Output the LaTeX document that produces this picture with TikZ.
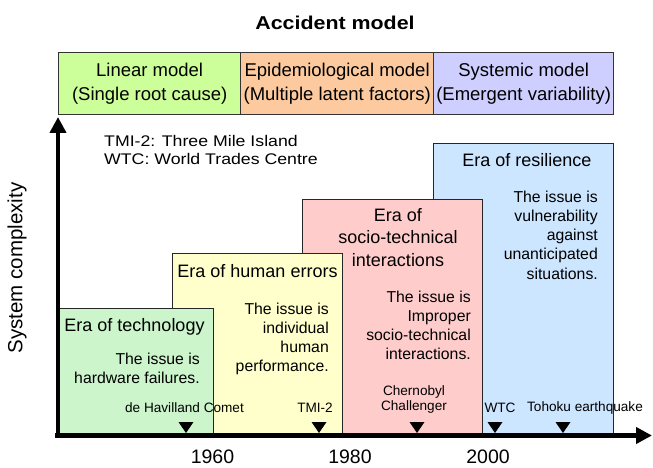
\documentclass[tikz,border=0pt]{standalone}
\usepackage{fontspec}
\setmainfont{Liberation Sans}
\newfontfamily\widesans[FakeStretch=1.15]{Liberation Sans}
\usetikzlibrary{arrows.meta}

\definecolor{linfill}{RGB}{204,255,153}
\definecolor{epifill}{RGB}{252,202,158}
\definecolor{sysfill}{RGB}{206,206,255}
\definecolor{techfill}{RGB}{204,245,204}
\definecolor{humfill}{RGB}{255,255,204}
\definecolor{socfill}{RGB}{255,204,204}
\definecolor{resfill}{RGB}{204,230,255}

\begin{document}
\begin{tikzpicture}[x=1pt,y=-1pt,
  modelbox/.style={draw=black!80, line width=1.3pt, inner sep=0pt, align=center,
    anchor=north west, minimum height=62pt, font=\fontsize{18.5}{24}\selectfont},
  erabox/.style={draw=black!85, line width=1.2pt, inner sep=0pt, anchor=north west},
  eratitle/.style={inner sep=0pt, align=center, font=\fontsize{18}{22.5}\selectfont},
  issue/.style={inner sep=0pt, align=right, anchor=east, font=\fontsize{15.8}{19.2}\selectfont},
  event/.style={inner sep=0pt, align=center, font=\fontsize{13.6}{15.5}\selectfont},
  year/.style={inner sep=0pt, font=\fontsize{19.5}{23}\selectfont},
  axis/.style={line width=4.5pt, -{Triangle[length=16pt,width=16pt]}},
]
\useasboundingbox (0,0) rectangle (653,468);

% heading and the three accident models
\node[font=\widesans\bfseries\fontsize{18.6}{22}\selectfont] (title) at (335,23) {Accident model};
\node[modelbox, fill=linfill, minimum width=182pt] (linear) at (58,52)
  {Linear model\\(Single root cause)};
\node[modelbox, fill=epifill, minimum width=193pt] (epidem) at (240,52)
  {Epidemiological model\\(Multiple latent factors)};
\node[modelbox, fill=sysfill, minimum width=180pt] (systemic) at (433,52)
  {Systemic model\\(Emergent variability)};

% abbreviations
\node[anchor=west, align=left, inner sep=0pt, font=\widesans\fontsize{15.4}{17.5}\selectfont]
  (legend) at (104,150) {TMI-2: Three Mile Island\\WTC: World Trades Centre};

% eras, back to front
\node[erabox, fill=resfill, minimum width=180pt, minimum height=293pt] (resbox) at (433,143) {};
\node[eratitle] (restitle) at (527,160) {Era of resilience};
\node[issue] (resissue) at (598,235)
  {The issue is\\vulnerability\\against\\unanticipated\\situations.};

\node[erabox, fill=socfill, minimum width=180pt, minimum height=237pt] (socbox) at (302,199) {};
\node[eratitle] (soctitle) at (398,237.5) {Era of\\socio-technical\\interactions};
\node[issue] (socissue) at (471,325.5)
  {The issue is\\Improper\\socio-technical\\interactions.};

\node[erabox, fill=humfill, minimum width=170pt, minimum height=183pt] (humbox) at (172,253) {};
\node[eratitle] (humtitle) at (257.5,271) {Era of human errors};
\node[issue] (humissue) at (329,339)
  {The issue is\\individual\\human\\performance.};

\node[erabox, fill=techfill, minimum width=155pt, minimum height=128pt] (techbox) at (58,308) {};
\node[eratitle] (techtitle) at (134.5,327) {Era of technology};
\node[issue] (techissue) at (200,368) {The issue is\\hardware failures.};

% accidents on the time line
\node[event] (comet) at (184.5,408) {de Havilland Comet};
\node[event] (tmi) at (315,408) {TMI-2};
\node[event] (chern) at (414,399.5) {Chernobyl\\Challenger};
\node[event] (wtc) at (500,407.5) {WTC};
\node[event] (tohoku) at (585,407.5) {Tohoku earthquake};

\coordinate (mcomet) at (186,433);
\coordinate (mtmi) at (319,433);
\coordinate (mchern) at (417,433);
\coordinate (mwtc) at (495,433);
\coordinate (mtohoku) at (563,433);
\foreach \m in {mcomet,mtmi,mchern,mwtc,mtohoku}
  \fill (\m) -- ++(-7.5,-11) -- ++(15,0) -- cycle;

% axes
\coordinate (origin) at (58,438);
\coordinate (ytop) at (58,117);
\coordinate (xstart) at (55,435.5);
\coordinate (xend) at (652,435.5);
\draw[axis] (origin) -- (ytop);
\draw[axis] (xstart) -- (xend);
\node[rotate=90, inner sep=0pt, font=\fontsize{20.5}{24}\selectfont] (ylabel) at (17,268) {System complexity};

% years
\node[year] (y1960) at (212.5,456.5) {1960};
\node[year] (y1980) at (350,456.5) {1980};
\node[year] (y2000) at (488,456.5) {2000};
\end{tikzpicture}
\end{document}
